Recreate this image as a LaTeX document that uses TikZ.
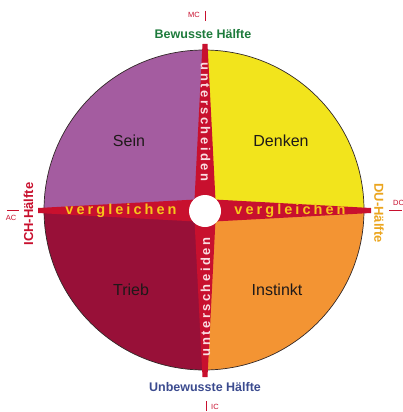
\documentclass[tikz,border=0pt]{standalone}
\usepackage{fontspec}
\setmainfont{Liberation Sans}
\newfontfamily\spacedbold[LetterSpace=21]{Liberation Sans Bold}
\newfontfamily\spacedboldv[LetterSpace=19]{Liberation Sans Bold}
\definecolor{seinc}{RGB}{164,92,160}
\definecolor{denkenc}{RGB}{242,228,28}
\definecolor{triebc}{RGB}{152,16,56}
\definecolor{instinktc}{RGB}{243,148,51}
\definecolor{bandc}{RGB}{200,16,46}
\definecolor{greenc}{RGB}{30,123,60}
\definecolor{bluec}{RGB}{59,75,143}
\definecolor{duc}{RGB}{235,165,30}
\definecolor{vglc}{RGB}{246,197,27}
\definecolor{untc}{RGB}{250,222,226}
\definecolor{txtc}{RGB}{30,25,25}
\definecolor{outlinec}{RGB}{50,40,40}
\tikzset{
  quadlabel/.style={font=\fontsize{16}{18}\selectfont, text=txtc, inner sep=0pt},
  halflabel/.style={font=\bfseries\fontsize{12.5}{14}\selectfont, inner sep=0pt},
  bandtext/.style={font=\spacedbold\fontsize{14.5}{16}\selectfont, inner sep=0pt},
  bandtextv/.style={font=\spacedboldv\fontsize{13}{14}\selectfont, inner sep=0pt},
  pointlabel/.style={font=\fontsize{7.5}{8}\selectfont, text=bandc, inner sep=0pt},
  tick/.style={draw=bandc, line width=0.8pt}
}
\begin{document}
\begin{tikzpicture}[x=1pt,y=-1pt]
\useasboundingbox (0,0) rectangle (403,412);
\coordinate (c) at (204,210);
\begin{scope}
  \clip (c) circle[radius=160pt];
  \fill[seinc] (40,46) rectangle (c);
  \fill[denkenc] (c) rectangle (368,46);
  \fill[triebc] (40,374) rectangle (c);
  \fill[instinktc] (c) rectangle (368,374);
\end{scope}
\draw[outlinec, line width=0.7pt] (c) circle[radius=160pt];
% bands
\fill[bandc] (202.5,44) -- (207.5,44) -- (216,210) -- (207.5,377) -- (202.5,377) -- (194,210) -- cycle;
\fill[bandc] (38,208) -- (38,213) -- (205,222) -- (371,213) -- (371,208) -- (205,199) -- cycle;
\fill[white] (205,211) circle[radius=16pt];
% band texts
\node[bandtext, text=vglc] (vl) at (121,211) {vergleichen};
\node[bandtext, text=vglc] (vr) at (290,211) {vergleichen};
\node[bandtextv, text=untc, rotate=-90] (ut) at (205.5,122) {unterscheiden};
\node[bandtextv, text=untc, rotate=90] (ub) at (205.5,297) {unterscheiden};
% quadrant labels
\node[quadlabel] (sein) at (129,141) {Sein};
\node[quadlabel] (denken) at (281,141) {Denken};
\node[quadlabel] (trieb) at (131,290) {Trieb};
\node[quadlabel] (instinkt) at (277,290) {Instinkt};
% half labels
\node[halflabel, text=greenc] (bew) at (203,34) {Bewusste Hälfte};
\node[halflabel, text=bluec] (unbew) at (205,387) {Unbewusste Hälfte};
\node[halflabel, text=bandc, rotate=90, font=\bfseries\fontsize{13}{14}\selectfont] (ich) at (28.5,214) {ICH-Hälfte};
\node[halflabel, text=duc, rotate=-90, font=\bfseries\fontsize{13}{14}\selectfont] (du) at (379,213) {DU-Hälfte};
% point labels
\node[pointlabel] (mc) at (194,15) {MC};
\coordinate (mct) at (205,11); \coordinate (mcb) at (205,21);
\draw[tick] (mct) -- (mcb);
\node[pointlabel] (ac) at (11,218) {AC};
\coordinate (acl) at (7,210); \coordinate (acr) at (19,210);
\draw[tick] (acl) -- (acr);
\node[pointlabel, anchor=west] (dc) at (393,203) {DC};
\coordinate (dcl) at (389,210); \coordinate (dcr) at (402,210);
\draw[tick] (dcl) -- (dcr);
\node[pointlabel, anchor=west] (ic) at (211,407) {IC};
\coordinate (ict) at (206,401); \coordinate (icb) at (206,411);
\draw[tick] (ict) -- (icb);
\end{tikzpicture}
\end{document}
